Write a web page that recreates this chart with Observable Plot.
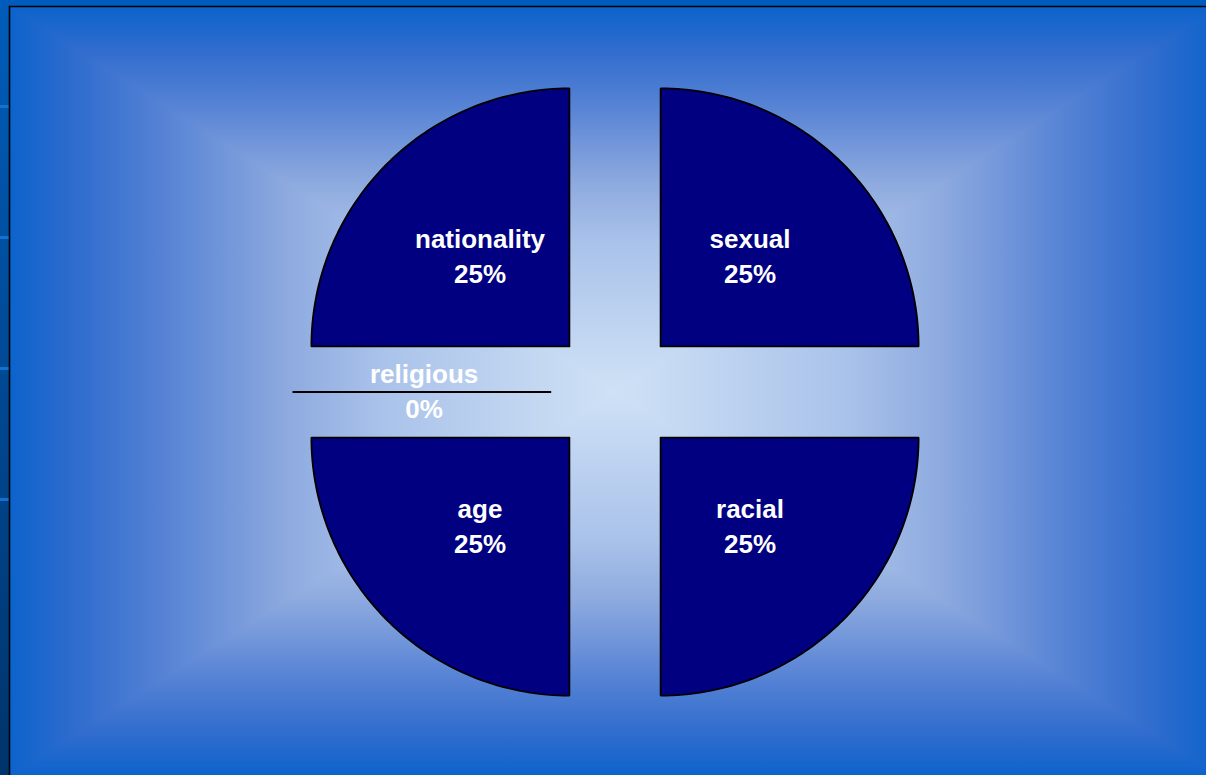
<!DOCTYPE html>
<html>
<head>
<meta charset="utf-8">
<script src="https://cdn.jsdelivr.net/npm/d3@7"></script>
<script src="https://cdn.jsdelivr.net/npm/@observablehq/plot@0.6"></script>
<style>
  html, body { margin: 0; padding: 0; overflow: hidden; background: #0c63cc; }
  #chart svg { display: block; }
</style>
</head>
<body>
<div id="chart"></div>
<script>
// ---- data ----
const slices = ["sexual", "racial", "age", "religious", "nationality"];
const shares = [25, 25, 25, 0, 25];
const pctLabels = ["25%", "25%", "25%", "0%", "25%"];

// ---- geometry from data (d3.pie) ----
const explode = 0.25;      // fraction of radius
const labelR = 0.49;       // label distance from slice apex, fraction of radius
const arcs = d3.pie().sort(null).value(d => d)(shares);

const slicePts = [];
const labelData = [];
arcs.forEach((a, i) => {
  const mid = (a.startAngle + a.endAngle) / 2;
  const ox = explode * Math.sin(mid), oy = explode * Math.cos(mid);
  slicePts.push({slice: slices[i], x: ox, y: oy});
  const n = 72;
  for (let k = 0; k <= n; k++) {
    const t = a.startAngle + (a.endAngle - a.startAngle) * k / n;
    slicePts.push({slice: slices[i], x: ox + Math.sin(t), y: oy + Math.cos(t)});
  }
  slicePts.push({slice: slices[i], x: ox, y: oy});
  labelData.push({
    name: slices[i], pct: pctLabels[i],
    x: ox + labelR * Math.sin(mid), y: oy + labelR * Math.cos(mid)
  });
});

// ---- layout ----
const W = 1206, H = 775;
const cx = 614.5, cy = 391.5, R = 258;

// background (decorative): box gradient panel
function background(index, scales, values, dims) {
  const g = d3.create("svg:g");
  const x0 = 10, y0 = 7;
  const hw = cx - x0, hh = cy - y0;
  const x1 = cx + hw, y1 = cy + hh;
  const stops = [
    [0, "#cee1f6"], [0.12, "#c4d8f2"], [0.39, "#a9c2ea"], [0.54, "#8eaadf"],
    [0.76, "#5280d4"], [0.9, "#2d6bcd"], [1, "#0c63cc"]
  ];
  const defs = g.append("defs");
  const lg = defs.append("linearGradient").attr("id", "leftStrip")
    .attr("x1", 0).attr("y1", 0).attr("x2", 0).attr("y2", 1);
  lg.append("stop").attr("offset", 0).attr("stop-color", "#005cba");
  lg.append("stop").attr("offset", 1).attr("stop-color", "#00346c");
  g.append("rect").attr("x", 0).attr("y", 0).attr("width", W).attr("height", H).attr("fill", "#005cbc");
  g.append("rect").attr("x", 0).attr("y", 0).attr("width", x0).attr("height", H).attr("fill", "url(#leftStrip)");
  [105, 236, 367, 498].forEach(ty => {
    g.append("rect").attr("x", 0).attr("y", ty).attr("width", x0 - 1).attr("height", 3).attr("fill", "#1272d4");
  });
  const tris = [
    {id: "gT", pts: [[cx, cy], [x0, y0], [x1, y0]], g: [cx, cy, cx, y0]},
    {id: "gB", pts: [[cx, cy], [x0, y1], [x1, y1]], g: [cx, cy, cx, y1]},
    {id: "gL", pts: [[cx, cy], [x0, y0], [x0, y1]], g: [cx, cy, x0, cy]},
    {id: "gR", pts: [[cx, cy], [x1, y0], [x1, y1]], g: [cx, cy, x1, cy]}
  ];
  tris.forEach(tr => {
    const lgr = defs.append("linearGradient").attr("id", tr.id)
      .attr("gradientUnits", "userSpaceOnUse")
      .attr("x1", tr.g[0]).attr("y1", tr.g[1]).attr("x2", tr.g[2]).attr("y2", tr.g[3]);
    stops.forEach(([o, c]) => lgr.append("stop").attr("offset", o).attr("stop-color", c));
    g.append("polygon").attr("points", tr.pts.map(p => p.join(",")).join(" "))
      .attr("fill", `url(#${tr.id})`).attr("shape-rendering", "crispEdges");
  });
  // frame border (left and top only)
  g.append("path").attr("d", `M${x0 - 0.5},${H + 5} V${y0 - 0.5} H${W + 20}`)
    .attr("fill", "none").attr("stroke", "#000").attr("stroke-width", 1.6);
  return g.node();
}

const font = "'Liberation Sans', Arial, sans-serif";

const chart = Plot.plot({
  width: W,
  height: H,
  margin: 0,
  x: {domain: [-1, 1], range: [cx - R, cx + R], axis: null},
  y: {domain: [-1, 1], range: [cy + R, cy - R], axis: null},
  marks: [
    background,
    Plot.line(slicePts, {
      x: "x", y: "y", z: "slice",
      fill: "#000080", stroke: "#000", strokeWidth: 1.8, strokeLinejoin: "miter"
    }),
    Plot.text(labelData, {
      x: "x", y: "y", text: "name", dy: -17.5,
      fill: "white", fontSize: 26, fontWeight: "bold", fontFamily: font
    }),
    Plot.text(labelData, {
      x: "x", y: "y", text: "pct", dy: 17.5,
      fill: "white", fontSize: 26, fontWeight: "bold", fontFamily: font
    })
  ]
});
document.getElementById("chart").appendChild(chart);
</script>
</body>
</html>
